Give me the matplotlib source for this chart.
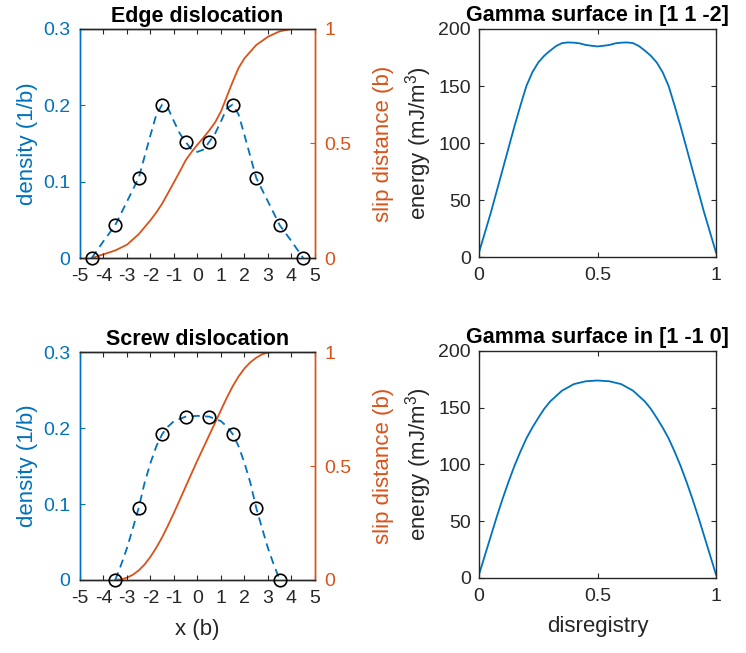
import numpy as np
import matplotlib
matplotlib.use('Agg')
import matplotlib.pyplot as plt

plt.rcParams['font.family'] = ['Liberation Sans', 'DejaVu Sans']
plt.rcParams['mathtext.fontset'] = 'custom'
plt.rcParams['mathtext.rm'] = 'Liberation Sans'
plt.rcParams['mathtext.it'] = 'Liberation Sans:italic'
plt.rcParams['axes.unicode_minus'] = False

BLUE = '#0072BD'
ORANGE = '#D95319'
DARK = '#262626'
TICK_FS = 14
LABEL_FS = 16
TITLE_FS = 15.5

# --- edge dislocation: density at lattice sites, smooth profile, slip distance
edge_x = [-4.5, -3.5, -2.5, -1.5, -0.5, 0.5, 1.5, 2.5, 3.5, 4.5]
edge_rho = [0.0, 0.043, 0.105, 0.201, 0.152, 0.152, 0.201, 0.105, 0.043, 0.0]

edge_fit_x = [-4.5, -4.0, -3.5, -3.0, -2.5, -2.0, -1.75, -1.5, -1.25, -1.0, -0.75,
              -0.5, -0.25, 0.0, 0.25, 0.5, 0.75, 1.0, 1.25, 1.5, 1.75, 2.0, 2.5,
              3.0, 3.5, 4.0, 4.5]
edge_fit_rho = [0.0, 0.022, 0.043, 0.074, 0.105, 0.161, 0.188, 0.201, 0.196, 0.179,
                0.163, 0.152, 0.142, 0.139, 0.142, 0.152, 0.163, 0.179, 0.196, 0.201,
                0.188, 0.161, 0.105, 0.074, 0.043, 0.022, 0.0]

edge_slip_x = [-4.5, -4.0, -3.5, -3.0, -2.5, -2.0, -1.75, -1.5, -1.25, -1.0, -0.75,
               -0.5, -0.25, 0.0, 0.25, 0.5, 0.75, 1.0, 1.25, 1.5, 1.75, 2.0, 2.5,
               3.0, 3.5, 4.0, 4.5]
edge_slip = [0.0, 0.016, 0.033, 0.058, 0.104, 0.165, 0.199, 0.238, 0.284, 0.331,
             0.378, 0.427, 0.463, 0.495, 0.525, 0.557, 0.592, 0.64, 0.705, 0.77,
             0.83, 0.872, 0.93, 0.966, 0.99, 1.0, 1.0]

# --- screw dislocation
screw_x = [-3.5, -2.5, -1.5, -0.5, 0.5, 1.5, 2.5, 3.5]
screw_rho = [0.0, 0.095, 0.192, 0.215, 0.215, 0.192, 0.095, 0.0]

screw_fit_x = [-3.5, -3.25, -3.0, -2.75, -2.5, -2.25, -2.0, -1.75, -1.5, -1.25,
               -1.0, -0.5, 0.0, 0.5, 1.0, 1.25, 1.5, 1.75, 2.0, 2.25, 2.5, 2.75,
               3.0, 3.25, 3.5]
screw_fit_rho = [0.0, 0.020, 0.042, 0.068, 0.095, 0.128, 0.154, 0.176, 0.192, 0.202,
                 0.209, 0.215, 0.216, 0.215, 0.209, 0.202, 0.192, 0.176, 0.154,
                 0.128, 0.095, 0.068, 0.042, 0.020, 0.0]

screw_slip_x = [-3.5, -3.25, -3.0, -2.75, -2.5, -2.25, -2.0, -1.75, -1.5, -1.25,
                -1.0, -0.75, -0.5, -0.25, 0.0, 0.25, 0.5, 0.75, 1.0, 1.25, 1.5,
                1.75, 2.0, 2.25, 2.5, 2.75, 3.0, 3.25, 3.5]
screw_slip = [0.0, 0.003, 0.01, 0.023, 0.042, 0.068, 0.102, 0.142, 0.188, 0.24,
              0.295, 0.352, 0.41, 0.468, 0.525, 0.58, 0.635, 0.69, 0.745, 0.80,
              0.85, 0.893, 0.928, 0.955, 0.975, 0.99, 0.998, 1.0, 1.0]

# --- gamma surfaces
gsf_d = [0.0, 0.025, 0.05, 0.075, 0.1, 0.125, 0.15, 0.175, 0.2, 0.225, 0.25, 0.275,
         0.3, 0.325, 0.35, 0.375, 0.4, 0.425, 0.45, 0.475, 0.5, 0.525, 0.55, 0.575,
         0.6, 0.625, 0.65, 0.675, 0.7, 0.725, 0.75, 0.775, 0.8, 0.825, 0.85, 0.875,
         0.9, 0.925, 0.95, 0.975, 1.0]
gsf_112 = [4.0, 21.5, 39.0, 58.0, 77.0, 96.0, 115.0, 133.0, 150.0, 162.0, 170.6,
           176.5, 181.0, 185.0, 187.6, 188.2, 188.0, 187.4, 186.0, 185.3, 184.7,
           185.3, 186.0, 187.4, 188.0, 188.2, 187.6, 185.0, 181.0, 176.5, 170.6,
           162.0, 150.0, 133.0, 115.0, 96.0, 77.0, 58.0, 39.0, 21.5, 4.0]

gsf_d2 = [0.0, 0.025, 0.05, 0.075, 0.1, 0.125, 0.15, 0.175, 0.2, 0.225, 0.25, 0.275,
          0.3, 0.35, 0.4, 0.45, 0.5, 0.55, 0.6, 0.65, 0.7, 0.725, 0.75, 0.775, 0.8,
          0.825, 0.85, 0.875, 0.9, 0.925, 0.95, 0.975, 1.0]
gsf_110 = [3.0, 20.0, 37.0, 54.0, 70.0, 85.0, 99.0, 111.5, 123.0, 132.5, 141.0,
           149.0, 155.5, 165.0, 170.8, 173.3, 174.0, 173.3, 170.8, 165.0, 155.5,
           149.0, 141.0, 132.5, 123.0, 111.5, 99.0, 85.0, 70.0, 54.0, 37.0, 20.0,
           3.0]

fig = plt.figure(figsize=(7.46, 6.53), dpi=100)


def dislocation_panel(rect, title, px, prho, fx, frho, sx, sval, xlabel=None):
    ax = fig.add_axes(rect)
    ax2 = ax.twinx()
    ax2.plot(sx, sval, color=ORANGE, lw=1.3)
    ax.plot(fx, frho, color=BLUE, lw=1.3, dashes=(4.5, 3))
    ax.plot(px, prho, 'o', mfc='none', mec='black', ms=9, mew=1.2, clip_on=False,
            zorder=5)
    ax.set_zorder(ax2.get_zorder() + 1)
    ax.patch.set_visible(False)

    ax.set_xlim(-5, 5)
    ax.set_ylim(0, 0.3)
    ax2.set_ylim(0, 1)
    ax.set_xticks(range(-5, 6))
    ax.set_yticks([0, 0.1, 0.2, 0.3])
    ax.set_yticklabels(['0', '0.1', '0.2', '0.3'])
    ax2.set_yticks([0, 0.5, 1])
    ax2.set_yticklabels(['0', '0.5', '1'])

    for a in (ax, ax2):
        for s in a.spines.values():
            s.set_color(DARK)
            s.set_linewidth(1.0)
        a.spines['left'].set_color(BLUE)
        a.spines['right'].set_color(ORANGE)
    ax.tick_params(axis='x', direction='in', length=3.5, width=0.8,
                   labelsize=TICK_FS, colors=DARK, top=True, pad=7.5)
    ax.tick_params(axis='y', direction='in', length=3.5, width=0.8,
                   labelsize=TICK_FS, colors=BLUE, right=False, pad=7)
    ax2.tick_params(axis='y', direction='in', length=3.5, width=0.8,
                    labelsize=TICK_FS, colors=ORANGE, pad=7)

    ax.set_ylabel('density (1/b)', color=BLUE, fontsize=LABEL_FS, labelpad=4)
    ax2.set_ylabel('slip distance (b)', color=ORANGE, fontsize=LABEL_FS,
                   labelpad=15)
    ax.set_title(title, fontsize=TITLE_FS, fontweight='bold', pad=5)
    if xlabel:
        ax.set_xlabel(xlabel, fontsize=LABEL_FS, color=DARK, labelpad=8)
    return ax


def gamma_panel(rect, title, d, e, xlabel=None):
    ax = fig.add_axes(rect)
    ax.plot(d, e, color=BLUE, lw=1.3)
    ax.set_xlim(0, 1)
    ax.set_ylim(0, 200)
    ax.set_xticks([0, 0.5, 1])
    ax.set_xticklabels(['0', '0.5', '1'])
    ax.set_yticks([0, 50, 100, 150, 200])
    for s in ax.spines.values():
        s.set_color(DARK)
        s.set_linewidth(1.0)
    ax.tick_params(direction='in', length=3.5, width=0.8, labelsize=TICK_FS,
                   colors=DARK, top=True, right=True)
    ax.tick_params(axis='x', pad=7.5)
    ax.tick_params(axis='y', pad=6)
    ax.set_ylabel('energy (mJ/m$^3$)', fontsize=LABEL_FS, color=DARK, labelpad=3)
    ax.set_title(title, fontsize=TITLE_FS, fontweight='bold', pad=6)
    if xlabel:
        ax.set_xlabel(xlabel, fontsize=LABEL_FS, color=DARK, labelpad=8)
    return ax


dislocation_panel([0.1072, 0.6049, 0.3150, 0.3507], 'Edge dislocation',
                  edge_x, edge_rho, edge_fit_x, edge_fit_rho, edge_slip_x, edge_slip)
dislocation_panel([0.1072, 0.1118, 0.3150, 0.3491], 'Screw dislocation',
                  screw_x, screw_rho, screw_fit_x, screw_fit_rho, screw_slip_x,
                  screw_slip, xlabel='x (b)')
gamma_panel([0.6421, 0.6064, 0.3177, 0.3492], 'Gamma surface in [1 1 -2]',
            gsf_d, gsf_112)
gamma_panel([0.6421, 0.1149, 0.3177, 0.3476], 'Gamma surface in [1 -1 0]',
            gsf_d2, gsf_110, xlabel='disregistry')

fig.savefig('out.png', dpi=100, facecolor='white')
